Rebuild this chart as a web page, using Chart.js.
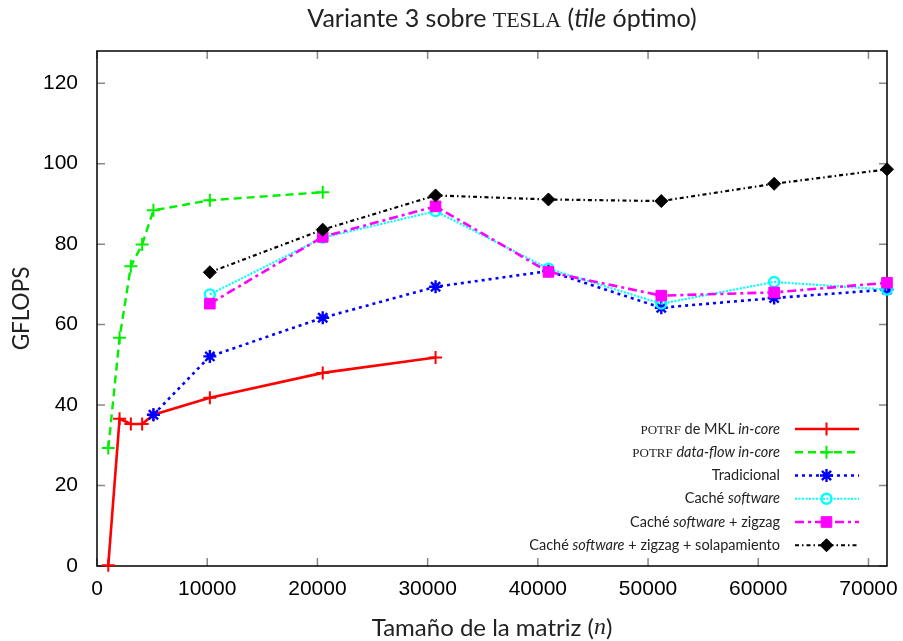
<!DOCTYPE html>
<html><head><meta charset="utf-8">
<script src="https://cdn.jsdelivr.net/npm/chart.js@4"></script>
<style>html,body{margin:0;padding:0;background:#fff}canvas{display:block}</style>
</head><body>
<canvas id="c" width="903" height="641"></canvas>
<script>
// ---- data (matrix size n -> GFLOPS) ----
const mklN = [1024, 2048, 3072, 4096, 5120, 10240, 20480, 30720];
const mklGflops = [0.2, 36.6, 35.3, 35.3, 37.6, 41.8, 48.0, 51.8];
const dataflowN = [1024, 2048, 3072, 4096, 5120, 10240, 20480];
const dataflowGflops = [29.3, 56.7, 74.5, 79.9, 88.4, 90.9, 92.9];
const tradN = [5120, 10240, 20480, 30720, 40960, 51200, 61440, 71680];
const tradGflops = [37.6, 52.1, 61.7, 69.4, 73.3, 64.2, 66.6, 68.7];
const cacheN = [10240, 20480, 30720, 40960, 51200, 61440, 71680];
const cacheGflops = [67.5, 81.6, 88.2, 73.9, 65.2, 70.6, 68.7];
const zigzagGflops = [65.2, 81.8, 89.4, 73.1, 67.2, 68.0, 70.4];
const overlapGflops = [73.0, 83.6, 92.1, 91.1, 90.7, 95.0, 98.6];
const xTicks = [0, 10000, 20000, 30000, 40000, 50000, 60000, 70000];
const yTicks = [0, 20, 40, 60, 80, 100, 120];
const xMax = 71680, yMax = 128;

const SANS = 'Lato';
const legendRows = [
  [['potrf','sc'],[' de MKL ','n'],['in-core','it']],
  [['potrf','sc'],[' ','n'],['data-flow in-core','it']],
  [['Tradicional','n']],
  [['Caché ','n'],['software','it']],
  [['Caché ','n'],['software','it'],[' + zigzag','n']],
  [['Caché ','n'],['software','it'],[' + zigzag + solapamiento','n']]
];
const titleSegs = [['Variante 3 sobre ','n'],['tesla','sc'],[' (','n'],['tile','it'],[' óptimo)','n']];
const xTitleSegs = [['Tamaño de la matriz (','n'],['n','math'],[')','n']];

function pts(xs, ys){ return xs.map((v,i)=>({x:v, y:ys[i]})); }

function fontOf(kind, size){
  if (kind==='sc') return `small-caps ${(size*1.28).toFixed(1)}px "Liberation Serif"`;
  if (kind==='it') return `italic ${size}px ${SANS}`;
  if (kind==='math') return `italic ${size}px "Liberation Serif"`;
  return `${size}px ${SANS}`;
}
function drawRich(ctx, segs, x, y, align, size){
  let w = 0;
  for (const s of segs){ ctx.font = fontOf(s[1], size); w += ctx.measureText(s[0]).width; }
  let cx = align==='right' ? x - w : align==='center' ? x - w/2 : x;
  ctx.textBaseline = 'middle'; ctx.textAlign = 'left';
  for (const s of segs){ ctx.font = fontOf(s[1], size); ctx.fillText(s[0], cx, y); cx += ctx.measureText(s[0]).width; }
}

const framePlugin = {
  id: 'frame',
  beforeDatasetsDraw(chart){
    const {ctx, chartArea:a, scales:{x, y}} = chart;
    ctx.save();
    ctx.strokeStyle = '#888'; ctx.lineWidth = 1.5;
    ctx.beginPath();
    for (const v of xTicks){ const p = x.getPixelForValue(v);
      ctx.moveTo(p, a.bottom); ctx.lineTo(p, a.bottom-8); ctx.moveTo(p, a.top); ctx.lineTo(p, a.top+8); }
    for (const v of yTicks){ const p = y.getPixelForValue(v);
      ctx.moveTo(a.left, p); ctx.lineTo(a.left+8, p); ctx.moveTo(a.right, p); ctx.lineTo(a.right-8, p); }
    ctx.stroke();
    ctx.strokeStyle = '#000'; ctx.lineWidth = 1.5;
    ctx.strokeRect(a.left, a.top, a.right-a.left, a.bottom-a.top);
    ctx.restore();
  },
  afterDraw(chart){
    const {ctx, chartArea:a} = chart;
    ctx.save();
    ctx.fillStyle = '#222';
    drawRich(ctx, titleSegs, 502, 19, 'center', 25);
    drawRich(ctx, xTitleSegs, 492, 628, 'center', 24);
    // legend
    const dsList = chart.data.datasets;
    for (let i=0; i<legendRows.length; i++){
      const ds = dsList[i];
      const ry = a.bottom - 137 + i*23.25;
      ctx.fillStyle = '#222';
      drawRich(ctx, legendRows[i], a.right-107, ry, 'right', 14.5);
      ctx.save();
      ctx.strokeStyle = ds.borderColor; ctx.lineWidth = ds.borderWidth;
      ctx.setLineDash(ds.borderDash || []);
      ctx.beginPath(); ctx.moveTo(a.right-92, ry); ctx.lineTo(a.right-28, ry); ctx.stroke();
      ctx.setLineDash([]);
      ctx.strokeStyle = ds.pointBorderColor; ctx.fillStyle = ds.pointBackgroundColor;
      ctx.lineWidth = ds.pointBorderWidth;
      Chart.helpers.drawPoint(ctx, {pointStyle: ds.pointStyle, radius: ds.pointRadius, borderWidth: ds.pointBorderWidth, rotation: 0}, a.right-60.5, ry);
      ctx.restore();
    }
    ctx.restore();
  }
};

function mk(label, data, color, dash, style, radius, bw, lw, fill, order){
  return {label, data, borderColor: color, borderWidth: lw, borderDash: dash,
    pointStyle: style, pointRadius: radius, pointHoverRadius: radius,
    pointBorderColor: color, pointBackgroundColor: fill, pointBorderWidth: bw,
    pointHoverBorderWidth: bw, tension: 0, fill: false, clip: false, order};
}

const datasets = [
  mk('POTRF de MKL in-core', pts(mklN, mklGflops), '#ff0000', [], 'cross', 6.5, 2, 2.6, '#ff0000', 6),
  mk('POTRF data-flow in-core', pts(dataflowN, dataflowGflops), '#00f000', [8,5], 'cross', 6.5, 2, 2.4, '#00f000', 5),
  mk('Tradicional', pts(tradN, tradGflops), '#0000ff', [3,4], 'star', 6.5, 2.4, 2.6, '#0000ff', 4),
  mk('Caché software', pts(cacheN, cacheGflops), '#00ffff', [2,1.5], 'circle', 5, 2.4, 2.2, 'rgba(0,0,0,0)', 3),
  mk('Caché software + zigzag', pts(cacheN, zigzagGflops), '#ff00ff', [9,4,3,4], 'rect', 7.5, 1, 2.6, '#ff00ff', 2),
  mk('Caché software + zigzag + solapamiento', pts(cacheN, overlapGflops), '#000000', [4,3,1.5,3], 'rectRot', 6.5, 1, 2.2, '#000000', 1)
];

new Chart(document.getElementById('c'), {
  type: 'line',
  data: { datasets },
  plugins: [framePlugin],
  options: {
    responsive: false, animation: false,
    layout: { padding: { top: 51, right: 16, left: 0, bottom: 0 } },
    plugins: { legend: { display: false }, tooltip: { enabled: false }, title: { display: false } },
    scales: {
      x: {
        type: 'linear', min: 0, max: xMax,
        grid: { display: false, drawTicks: false }, border: { display: false },
        afterBuildTicks: s => { s.ticks = xTicks.map(v => ({ value: v })); },
        ticks: { autoSkip: false, maxRotation: 0,
          padding: 11, color: '#000', font: { family: 'Liberation Sans', size: 21 },
          callback: v => String(v) },
        afterFit: s => { s.height = 75; s.paddingLeft = 0; s.paddingRight = 0; }
      },
      y: {
        type: 'linear', min: 0, max: yMax,
        grid: { display: false, drawTicks: false }, border: { display: false },
        afterBuildTicks: s => { s.ticks = yTicks.map(v => ({ value: v })); },
        ticks: { padding: 19, color: '#000',
          font: { family: 'Liberation Sans', size: 21 }, callback: v => String(v) },
        title: { display: true, text: 'GFLOPS', color: '#222', font: { family: SANS, size: 22.5 }, padding: { top: 8.5, bottom: 0 } },
        afterFit: s => { s.width = 97; s.paddingTop = 0; s.paddingBottom = 0; }
      }
    }
  }
});
</script>
</body></html>
